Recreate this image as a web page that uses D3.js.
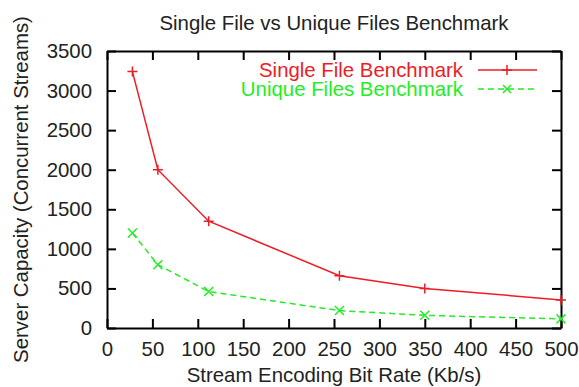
<!DOCTYPE html>
<html>
<head>
<meta charset="utf-8">
<script src="https://cdn.jsdelivr.net/npm/d3@7"></script>
<style>
  body { margin: 0; background: #fff; }
  svg text { font-family: "Liberation Sans", Arial, sans-serif; }
  .axis text { font-size: 20px; fill: #222; }
</style>
</head>
<body>
<svg width="579" height="387"></svg>
<script>
// data
const bitRates = [28, 56, 112, 256, 350, 500];
const singleFile = [3240, 2000, 1350, 660, 500, 355];
const uniqueFiles = [1200, 800, 460, 220, 160, 115];
const xTicks = [0, 50, 100, 150, 200, 250, 300, 350, 400, 450, 500];
const yTicks = [0, 500, 1000, 1500, 2000, 2500, 3000, 3500];

const seriesNames = ['Single File Benchmark', 'Unique Files Benchmark'];
const red = '#ee1c24';
const green = '#22ee22';
const fontSize = 20.4;

const svg = d3.select('svg');
const margin = { top: 51, right: 18, bottom: 59, left: 107 };
const width = +svg.attr('width');
const height = +svg.attr('height');
const innerWidth = width - margin.left - margin.right;
const innerHeight = height - margin.top - margin.bottom;

const x = d3.scaleLinear().domain([0, 500]).range([0, innerWidth]);
const y = d3.scaleLinear().domain([0, 3500]).range([innerHeight, 0]);

const g = svg.append('g')
  .attr('transform', `translate(${margin.left}, ${margin.top})`);

// axes, ticks pointing inward like gnuplot
const styleAxis = sel => {
  sel.selectAll('path, line').attr('stroke', '#000').attr('stroke-width', 2);
  sel.selectAll('text').style('font-size', fontSize + 'px');
};

g.append('g').attr('class', 'axis')
  .attr('transform', `translate(0, ${innerHeight})`)
  .call(d3.axisBottom(x).tickValues(xTicks).tickFormat(d3.format('d'))
    .tickSize(-9).tickSizeOuter(0).tickPadding(14))
  .call(styleAxis);

g.append('g').attr('class', 'axis')
  .call(d3.axisLeft(y).tickValues(yTicks).tickFormat(d3.format('d'))
    .tickSize(-9).tickSizeOuter(0).tickPadding(15))
  .call(styleAxis);

// mirrored ticks on top and right, no labels
g.append('g').attr('class', 'axis')
  .call(d3.axisTop(x).tickValues(xTicks).tickSize(-9).tickSizeOuter(0))
  .call(styleAxis)
  .selectAll('text').remove();

g.append('g').attr('class', 'axis')
  .attr('transform', `translate(${innerWidth}, 0)`)
  .call(d3.axisRight(y).tickValues(yTicks).tickSize(-9).tickSizeOuter(0))
  .call(styleAxis)
  .selectAll('text').remove();

// lines
const line = d3.line()
  .x(d => x(d[0]))
  .y(d => y(d[1]));

const singleData = bitRates.map((b, i) => [b, singleFile[i]]);
const uniqueData = bitRates.map((b, i) => [b, uniqueFiles[i]]);

g.append('path')
  .datum(singleData)
  .attr('d', line)
  .attr('fill', 'none')
  .attr('stroke', red)
  .attr('stroke-width', 1.5);

g.append('path')
  .datum(uniqueData)
  .attr('d', line)
  .attr('fill', 'none')
  .attr('stroke', green)
  .attr('stroke-width', 1.5)
  .attr('stroke-dasharray', '6,4');

// markers
const plus = (sel, s) => sel.append('path')
  .attr('d', `M${-s},0H${s}M0,${-s}V${s}`);
const cross = (sel, s) => sel.append('path')
  .attr('d', `M${-s},${-s}L${s},${s}M${-s},${s}L${s},${-s}`);

g.selectAll('.pt-single').data(singleData)
  .enter().append('g')
    .attr('class', 'pt-single')
    .attr('transform', d => `translate(${x(d[0])}, ${y(d[1])})`)
    .each(function () { plus(d3.select(this), 5); })
    .selectAll('path').attr('stroke', red).attr('stroke-width', 1.5);

g.selectAll('.pt-unique').data(uniqueData)
  .enter().append('g')
    .attr('class', 'pt-unique')
    .attr('transform', d => `translate(${x(d[0])}, ${y(d[1])})`)
    .each(function () { cross(d3.select(this), 4.5); })
    .selectAll('path').attr('stroke', green).attr('stroke-width', 1.5);

// legend
const legend = svg.append('g');
const legendColors = [red, green];
seriesNames.forEach((name, i) => {
  const ly = 70 + i * 19;
  legend.append('text')
    .attr('x', 463).attr('y', ly)
    .attr('dy', '0.35em')
    .attr('text-anchor', 'end')
    .attr('font-size', fontSize)
    .attr('fill', legendColors[i])
    .text(name);
  legend.append('line')
    .attr('x1', 478).attr('x2', 537)
    .attr('y1', ly).attr('y2', ly)
    .attr('stroke', legendColors[i])
    .attr('stroke-width', 1.5)
    .attr('stroke-dasharray', i === 1 ? '6,4' : null);
  const m = legend.append('g').attr('transform', `translate(507, ${ly})`);
  if (i === 0) plus(m, 5); else cross(m, 4);
  m.selectAll('path').attr('stroke', legendColors[i]).attr('stroke-width', 1.5);
});

// titles
svg.append('text')
  .attr('x', margin.left + innerWidth / 2)
  .attr('y', 30)
  .attr('text-anchor', 'middle')
  .attr('font-size', fontSize)
  .attr('fill', '#222')
  .text('Single File vs Unique Files Benchmark');

svg.append('text')
  .attr('x', margin.left + innerWidth / 2)
  .attr('y', 382)
  .attr('text-anchor', 'middle')
  .attr('font-size', fontSize)
  .attr('fill', '#222')
  .text('Stream Encoding Bit Rate (Kb/s)');

svg.append('text')
  .attr('transform', `translate(28, ${margin.top + innerHeight / 2}) rotate(-90)`)
  .attr('text-anchor', 'middle')
  .attr('font-size', fontSize)
  .attr('fill', '#222')
  .text('Server Capacity (Concurrent Streams)');
</script>
</body>
</html>
